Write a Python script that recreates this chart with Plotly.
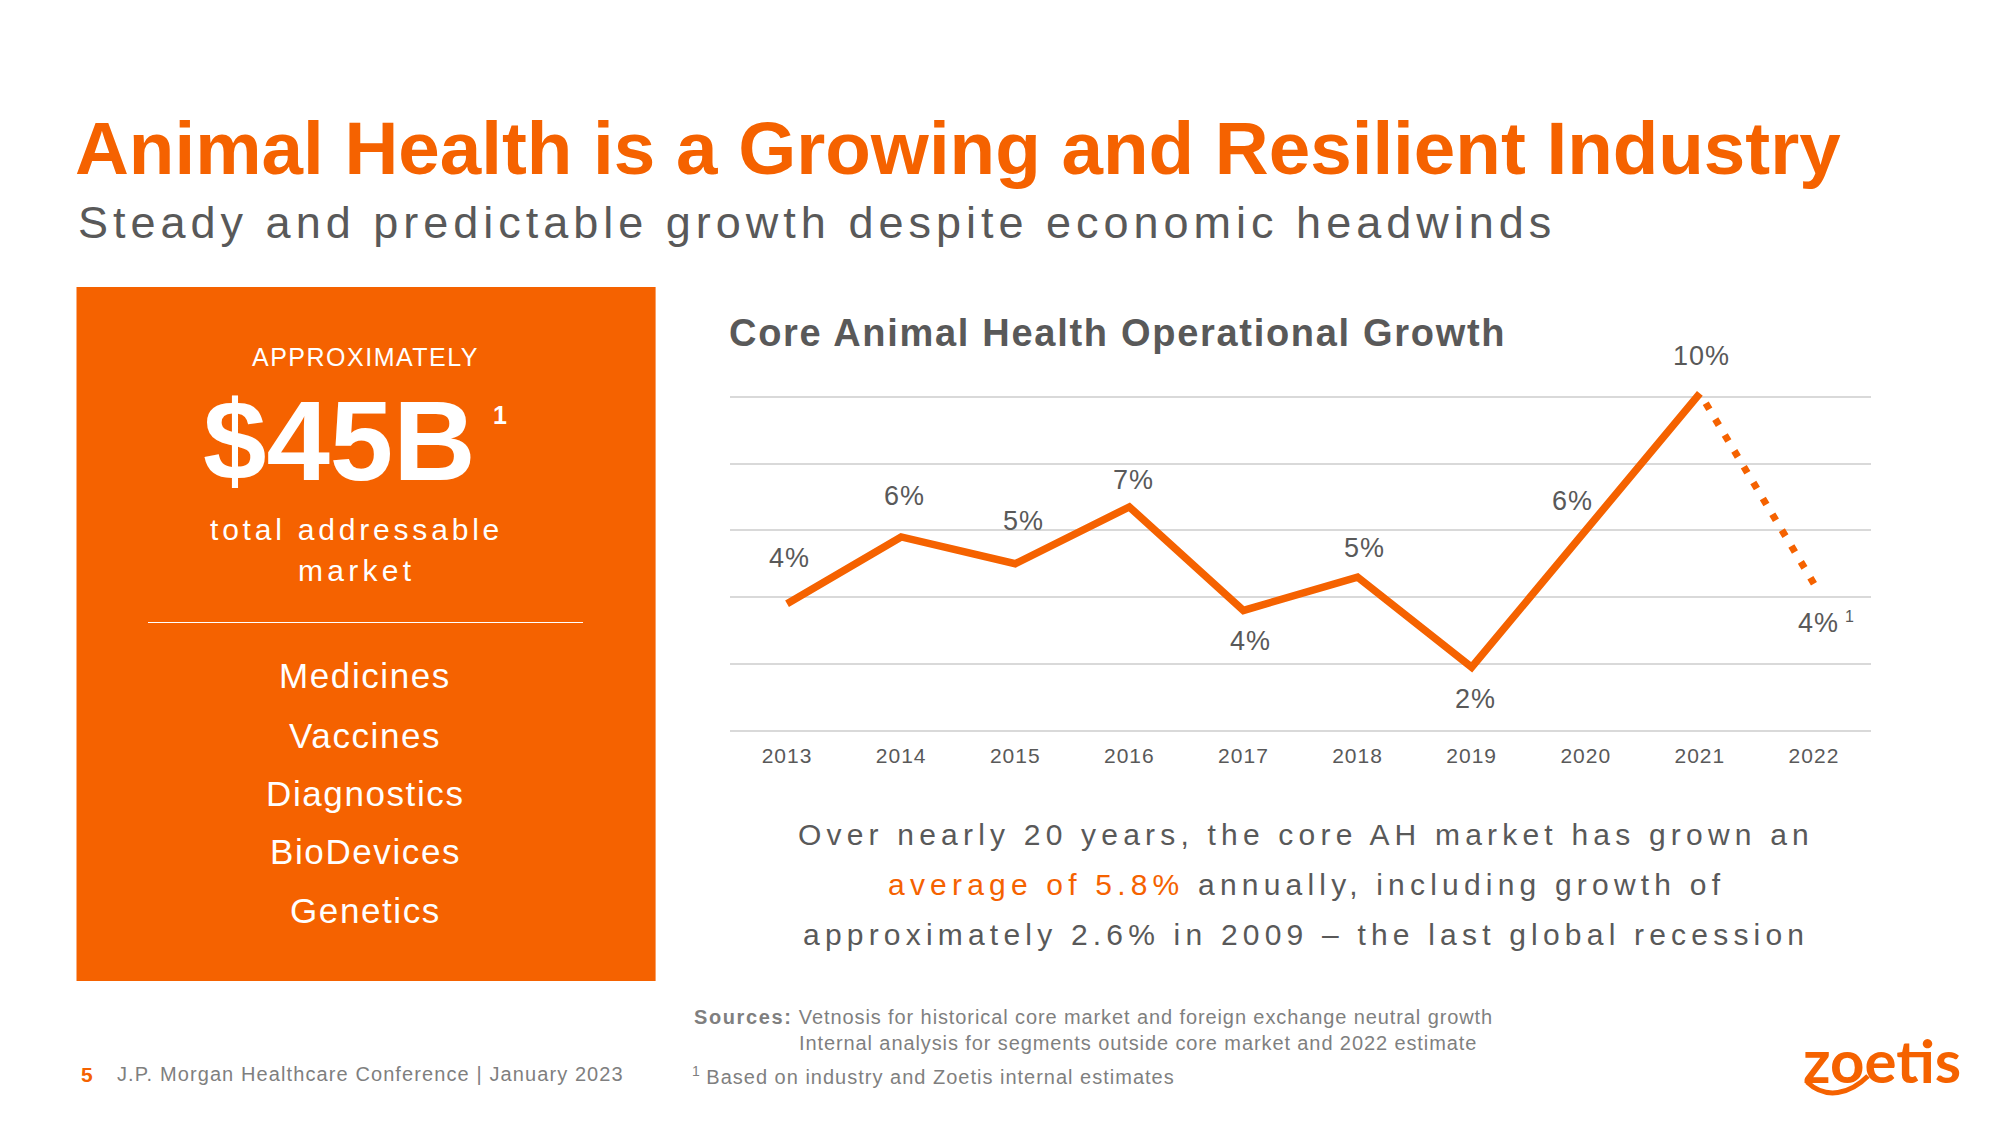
import plotly.graph_objects as go

# ---------------- data ----------------
years = ["2013", "2014", "2015", "2016", "2017", "2018", "2019", "2020", "2021", "2022"]
growth = [3.8, 5.8, 5.0, 6.7, 3.6, 4.6, 1.9, 6.0, 10.1, 4.4]   # % core AH operational growth
labels = ["4%", "6%", "5%", "7%", "4%", "5%", "2%", "6%", "10%", "4%"]
n_actual = 9          # 2013-2021 actual, 2022 estimate (dotted)
segments = ["Medicines", "Vaccines", "Diagnostics", "BioDevices", "Genetics"]

# label offsets (style only, pixels)
label_dx = [2, 3, 8, 4, 7, 7, 4, -13, 2, 5]
label_dy = [46, 41, 43, 27, -31, 29, -32, 29, 37, -39]

# ---------------- style ----------------
ORANGE = "#F56200"
GRAY = "#595959"
LIGHT = "#7F7F7F"
GRID = "#D9D9D9"
FONT = "Liberation Sans, Arial, Helvetica, sans-serif"
W, H = 2000, 1125


def fx(p):
    return p / W


def fy(p):
    return 1 - p / H


def ls(text, sp):
    return f'<span style="letter-spacing:{sp}px">{text}</span>'


fig = go.Figure()

fig.add_trace(go.Scatter(
    x=years[:n_actual], y=growth[:n_actual], mode="lines",
    line=dict(color=ORANGE, width=7.5), cliponaxis=False, hoverinfo="skip"))
fig.add_trace(go.Scatter(
    x=years[n_actual - 1:], y=growth[n_actual - 1:], mode="lines",
    line=dict(color=ORANGE, width=7, dash="0px,11.5px,7px,0px"),
    cliponaxis=False, hoverinfo="skip"))

annotations = []
# data labels (category axis -> annotation x is the category index)
for i, (v, lab) in enumerate(zip(growth, labels)):
    annotations.append(dict(
        x=i, y=v, xref="x", yref="y", text=ls(lab, 1), showarrow=False,
        xanchor="center", yanchor="middle", xshift=label_dx[i], yshift=label_dy[i],
        font=dict(family=FONT, size=27, color=GRAY)))
# footnote marker on 2022 estimate
annotations.append(dict(
    x=len(years) - 1, y=growth[-1], xref="x", yref="y", text="1", showarrow=False,
    xanchor="center", yanchor="middle", xshift=36, yshift=-33,
    font=dict(family=FONT, size=16, color=GRAY)))


def txt(text, x, y, size, color, anchor="left", bold=False, family=FONT):
    t = f"<b>{text}</b>" if bold else text
    annotations.append(dict(
        x=fx(x), y=fy(y), xref="paper", yref="paper", text=t, showarrow=False,
        xanchor=anchor, yanchor="middle", align=anchor if anchor != "center" else "center",
        font=dict(family=family, size=size, color=color)))


# titles
txt("Animal Health is a Growing and Resilient Industry", 73, 148, 74.6, ORANGE, bold=True)
txt(ls("Steady and predictable growth despite economic headwinds", 5.0), 76, 223, 45, GRAY)
txt(ls("Core Animal Health Operational Growth", 1.7), 727, 333, 38, GRAY, bold=True)

# orange box texts
txt(ls("APPROXIMATELY", 1.5), 365, 357, 25, "white", anchor="center")
txt(ls("$45B", 0), 339, 440, 114, "white", anchor="center", bold=True)
txt("1", 500, 415, 25, "white", anchor="center", bold=True)
txt(ls("total addressable", 3.8), 356, 529, 30, "white", anchor="center")
txt(ls("market", 4.3), 357, 570, 30, "white", anchor="center")
seg_y = [675, 735, 793, 851, 910]
for s, yy in zip(segments, seg_y):
    txt(ls(s, 1.6), 365, yy, 35, "white", anchor="center")

# paragraph
txt(ls("Over nearly 20 years, the core AH market has grown an", 5.2), 1306, 834, 30, GRAY, anchor="center")
txt(ls(f'<span style="color:{ORANGE};letter-spacing:5.2px">average of 5.8%</span> annually, including growth of', 5.2),
    1306, 884, 30, GRAY, anchor="center")
txt(ls("approximately 2.6% in 2009 \u2013 the last global recession", 5.2), 1306, 934, 30, GRAY, anchor="center")

# sources
txt('<span style="letter-spacing:1.6px"><b>Sources:</b></span>'
    + ls(" Vetnosis for historical core market and foreign exchange neutral growth", 0.9),
    692, 1017, 20, LIGHT)
txt(ls("Internal analysis for segments outside core market and 2022 estimate", 0.9), 797, 1043, 20, LIGHT)
txt("<sup>1</sup>" + ls(" Based on industry and Zoetis internal estimates", 1.0), 690, 1075, 20, LIGHT)

# footer
txt("5", 79, 1074, 21, ORANGE, bold=True)
txt(ls("J.P. Morgan Healthcare Conference | January 2023", 1.1), 115, 1074, 20, LIGHT)

# logo text
txt("zoetis", 1882, 1060, 60, ORANGE, anchor="center", bold=True, family="Lato, Open Sans, sans-serif")

shapes = [
    dict(type="rect", xref="paper", yref="paper", x0=fx(76.5), x1=fx(655.6), y0=fy(981), y1=fy(287),
         fillcolor=ORANGE, line=dict(width=0), layer="below"),
    dict(type="line", xref="paper", yref="paper", x0=fx(148), x1=fx(583), y0=fy(622.5), y1=fy(622.5),
         line=dict(color="white", width=1)),
    dict(type="path", xref="paper", yref="paper",
         path=(f"M {fx(1807)},{fy(1082)} C {fx(1826)},{fy(1100)} {fx(1850)},{fy(1094)} {fx(1868)},{fy(1076)}"),
         line=dict(color=ORANGE, width=5)),
]

fig.update_layout(
    width=W, height=H, margin=dict(l=0, r=0, t=0, b=0),
    paper_bgcolor="white", plot_bgcolor="white", showlegend=False,
    annotations=annotations, shapes=shapes,
    xaxis=dict(type="category", range=[-0.5, 9.5], domain=[fx(730), fx(1871)],
               showgrid=False, zeroline=False, showline=False, ticks="",
               tickvals=years, ticktext=[ls(y, 1) for y in years],
               tickfont=dict(family=FONT, size=21, color=GRAY), fixedrange=True),
    yaxis=dict(range=[-0.3, 10.5], domain=[fy(740.7), fy(380)], tick0=0, dtick=2,
               showgrid=True, gridcolor=GRID, gridwidth=1.6, zeroline=False,
               showticklabels=False, showline=False, fixedrange=True),
)

fig.write_html("out.html", config={"displayModeBar": False},
               post_script="document.body.style.margin='0px';document.body.style.overflow='hidden';")
